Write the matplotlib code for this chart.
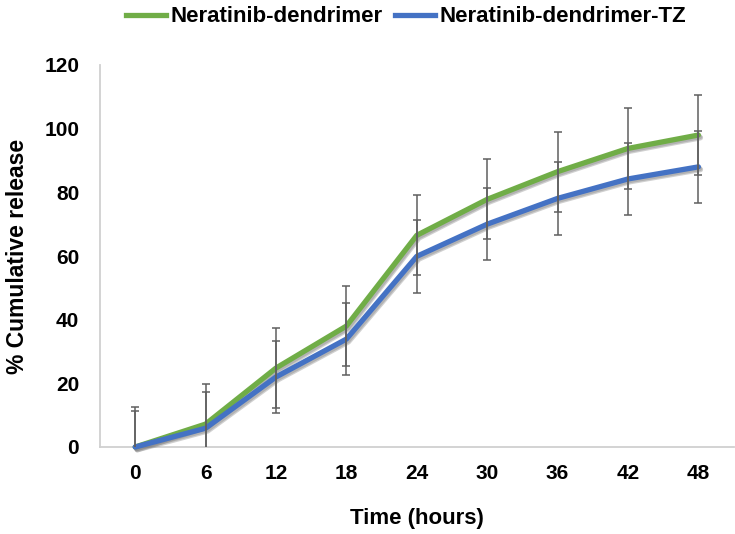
import matplotlib
matplotlib.use("Agg")
import matplotlib.pyplot as plt
import matplotlib.patheffects as pe
import numpy as np

plt.rcParams['font.family'] = ['Liberation Sans', 'DejaVu Sans']

time_labels = ["0", "6", "12", "18", "24", "30", "36", "42", "48"]
series_names = ["Neratinib-dendrimer", "Neratinib-dendrimer-TZ"]
green_vals = [0, 7.2, 24.8, 38.0, 66.5, 77.8, 86.5, 93.8, 98.0]
blue_vals = [0, 5.9, 22.0, 33.9, 59.9, 70.0, 78.1, 84.2, 88.0]
green_err = [12.6] * 9
blue_err = [11.4] * 9
colors = ["#70AD47", "#4472C4"]
yticks = [0, 20, 40, 60, 80, 100, 120]

fig = plt.figure(figsize=(7.35, 5.34), dpi=100)
ax = fig.add_axes([100/735, 87/534, 633.6/735, 382/534])

x = np.arange(len(time_labels))
shadow = [pe.SimpleLineShadow(offset=(1.5, -2.0), shadow_color='#7a7a7a', alpha=0.35),
          pe.SimpleLineShadow(offset=(1.0, -1.2), shadow_color='#7a7a7a', alpha=0.35),
          pe.Normal()]

for vals, err, col, name in [(green_vals, green_err, colors[0], series_names[0]),
                             (blue_vals, blue_err, colors[1], series_names[1])]:
    ax.plot(x, vals, color=col, lw=3.8, solid_capstyle='round',
            solid_joinstyle='round', zorder=3, clip_on=False,
            path_effects=shadow, label=name)
    ax.errorbar(x, vals, yerr=err, fmt='none', ecolor='#5f5f5f',
                elinewidth=1.1, capsize=2.9, capthick=1.1, zorder=4)

ax.set_xlim(-0.5, len(time_labels) - 0.5)
ax.set_ylim(0, 120)
ax.set_xticks(x)
ax.set_xticklabels(time_labels)
ax.set_yticks(yticks)
ax.tick_params(axis='both', length=0, labelsize=15)
ax.tick_params(axis='y', pad=15)
ax.tick_params(axis='x', pad=12)
for lab in ax.get_xticklabels() + ax.get_yticklabels():
    lab.set_fontweight('bold')

for s in ['top', 'right']:
    ax.spines[s].set_visible(False)
for s in ['left', 'bottom']:
    ax.spines[s].set_color('#d0d0d0')
    ax.spines[s].set_linewidth(1.3)

ax.set_xlabel("Time (hours)", fontsize=16, fontweight='bold', labelpad=18)
ax.set_ylabel("% Cumulative release", fontsize=16.5, fontweight='bold', labelpad=11)

leg_handles = [plt.Line2D([], [], color=c, lw=3.8) for c in colors]
fig.legend(leg_handles, series_names, loc='center', ncol=2,
           bbox_to_anchor=(406/735, 1 - 17/534), frameon=False,
           prop={'size': 16, 'weight': 'bold'}, handlelength=1.8,
           handletextpad=0.2, columnspacing=0.55)

fig.savefig("out.png", dpi=100)
